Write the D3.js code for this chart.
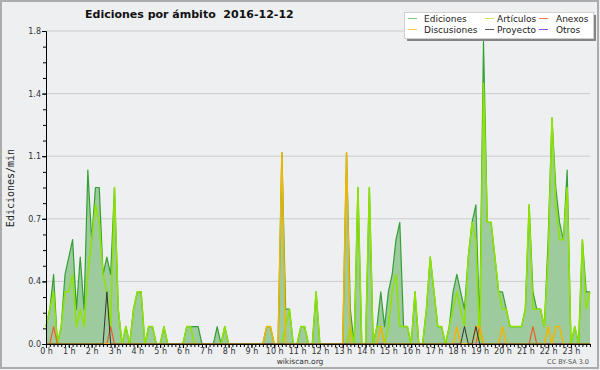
<!DOCTYPE html>
<html>
<head>
<meta charset="utf-8">
<script src="https://cdn.jsdelivr.net/npm/d3@7"></script>
<style>
	html, body { margin: 0; padding: 0; background: #eeeff1; }
	svg { display: block; font-family: 'DejaVu Sans', sans-serif; }
</style>
</head>
<body>
<div id="app"></div>
<script>

// one value per 10 minutes, edits per minute
const ediciones = [
	0.1, 0.2, 0.4, 0, 0.1, 0.4, 0.5, 0.6, 0.2, 0.5, 0.2, 1.0,
	0.6, 0.9, 0.9, 0.4, 0.5, 0.4, 0.9, 0.2, 0, 0.1, 0, 0.2,
	0.3, 0.3, 0, 0.1, 0.1, 0, 0, 0.1, 0, 0, 0, 0,
	0, 0.1, 0.1, 0.1, 0.1, 0, 0, 0, 0, 0.1, 0, 0.1,
	0, 0, 0, 0, 0, 0, 0, 0, 0, 0, 0.1, 0.1,
	0, 0, 1.1, 0.2, 0.2, 0, 0, 0.1, 0.1, 0, 0, 0.3,
	0, 0, 0, 0, 0, 0, 0, 1.1, 0.2, 0, 0.9, 0,
	0, 0.9, 0, 0.1, 0.3, 0.1, 0.3, 0.4, 0.6, 0.7, 0.1, 0.1,
	0, 0.3, 0, 0, 0.2, 0.5, 0.3, 0.1, 0.1, 0, 0.1, 0.3,
	0.4, 0.3, 0.2, 0.5, 0.7, 0.8, 0.1, 1.74, 0.7, 0.7, 0.5, 0.3,
	0.3, 0.2, 0.1, 0.1, 0.1, 0.1, 0.2, 0.8, 0.3, 0.2, 0.2, 0.1,
	0.6, 1.3, 0.9, 0.7, 0.6, 1.0, 0, 0.1, 0, 0.6, 0.3, 0.3
];

const articulos = [
	0.1, 0.2, 0.3, 0, 0.1, 0.3, 0.3, 0.4, 0.1, 0.2, 0.1, 0.4,
	0.6, 0.8, 0.7, 0.4, 0.3, 0.1, 0.9, 0.2, 0, 0.1, 0, 0.2,
	0.3, 0.3, 0, 0.1, 0.1, 0, 0, 0.1, 0, 0, 0, 0,
	0, 0.1, 0.1, 0, 0, 0, 0, 0, 0, 0, 0, 0.1,
	0, 0, 0, 0, 0, 0, 0, 0, 0, 0, 0, 0,
	0, 0, 0, 0.1, 0.2, 0, 0, 0.1, 0.1, 0, 0, 0.3,
	0, 0, 0, 0, 0, 0, 0, 0, 0.1, 0, 0.9, 0,
	0, 0.9, 0, 0.1, 0.1, 0, 0.1, 0.3, 0.4, 0.1, 0.1, 0.1,
	0, 0.3, 0, 0, 0.2, 0.5, 0.3, 0.1, 0.1, 0, 0.1, 0.2,
	0.3, 0.2, 0.1, 0.5, 0.7, 0.6, 0, 1.5, 0.7, 0.7, 0.5, 0.3,
	0.2, 0.2, 0.1, 0.1, 0.1, 0.1, 0.2, 0.8, 0.2, 0.2, 0.2, 0.1,
	0.5, 1.3, 0.8, 0.6, 0.6, 0.9, 0, 0.1, 0, 0.6, 0.2, 0.3
];

const discusiones = [
	0, 0, 0, 0, 0, 0, 0, 0, 0, 0, 0, 0,
	0, 0, 0, 0, 0, 0, 0, 0, 0, 0, 0, 0,
	0, 0, 0, 0, 0, 0, 0, 0, 0, 0, 0, 0,
	0, 0, 0, 0, 0, 0, 0, 0, 0, 0, 0, 0,
	0, 0, 0, 0, 0, 0, 0, 0, 0, 0, 0.1, 0.1,
	0, 0, 1.1, 0, 0, 0, 0, 0, 0, 0, 0, 0,
	0, 0, 0, 0, 0, 0, 0, 1.1, 0, 0, 0, 0,
	0, 0, 0, 0, 0.1, 0, 0, 0, 0, 0, 0, 0,
	0, 0, 0, 0, 0, 0, 0, 0, 0, 0, 0, 0,
	0.1, 0, 0, 0, 0, 0.1, 0.1, 0, 0, 0, 0, 0,
	0.1, 0, 0, 0, 0, 0, 0, 0, 0, 0, 0, 0,
	0.1, 0, 0.1, 0.1, 0, 0, 0, 0, 0, 0, 0, 0
];

const anexos = [
	0, 0, 0.1, 0, 0, 0, 0, 0, 0, 0, 0, 0,
	0, 0, 0, 0, 0, 0.1, 0, 0, 0, 0, 0, 0,
	0, 0, 0, 0, 0, 0, 0, 0, 0, 0, 0, 0,
	0, 0, 0, 0, 0, 0, 0, 0, 0, 0, 0, 0,
	0, 0, 0, 0, 0, 0, 0, 0, 0, 0, 0, 0,
	0, 0, 0, 0, 0, 0, 0, 0, 0, 0, 0, 0,
	0, 0, 0, 0, 0, 0, 0, 0, 0, 0, 0, 0,
	0, 0, 0, 0, 0, 0, 0, 0, 0, 0, 0, 0,
	0, 0, 0, 0, 0, 0, 0, 0, 0, 0, 0, 0,
	0, 0, 0, 0, 0, 0, 0.1, 0, 0, 0, 0, 0,
	0, 0, 0, 0, 0, 0, 0, 0, 0.1, 0, 0, 0,
	0, 0, 0, 0, 0, 0, 0, 0, 0, 0, 0, 0
];

const proyecto = [
	0, 0, 0, 0, 0, 0, 0, 0, 0, 0, 0, 0,
	0, 0, 0, 0, 0.3, 0, 0, 0, 0, 0, 0, 0,
	0, 0, 0, 0, 0, 0, 0, 0, 0, 0, 0, 0,
	0, 0, 0, 0, 0, 0, 0, 0, 0, 0, 0, 0,
	0, 0, 0, 0, 0, 0, 0, 0, 0, 0, 0, 0,
	0, 0, 0, 0, 0, 0, 0, 0, 0, 0, 0, 0,
	0, 0, 0, 0, 0, 0, 0, 0, 0, 0, 0, 0,
	0, 0, 0, 0, 0, 0, 0, 0, 0, 0, 0, 0,
	0, 0, 0, 0, 0, 0, 0, 0, 0, 0, 0, 0,
	0, 0, 0.1, 0, 0, 0.1, 0, 0, 0, 0, 0, 0,
	0, 0, 0, 0, 0, 0, 0, 0, 0, 0, 0, 0,
	0, 0, 0, 0, 0, 0, 0, 0, 0, 0, 0, 0
];

const otros = d3.range(144).map(() => 0);

const hourLabels = [
	'0 h', '1 h', '2 h', '3 h', '4 h', '5 h', '6 h', '7 h', '8 h', '9 h', '10 h', '11 h',
	'12 h', '13 h', '14 h', '15 h', '16 h', '17 h', '18 h', '19 h', '20 h', '21 h', '22 h', '23 h'
];

const yMajor = [0, 0.36, 0.72, 1.08, 1.44, 1.8];

const legendNames = ['Ediciones', 'Artículos', 'Anexos', 'Discusiones', 'Proyecto', 'Otros'];
const legendColors = ['#80c880', '#c8e860', '#f08050', '#f8c850', '#555555', '#9050e8'];

const chart = () => {

	const width = 600,
		height = 370;

	const margin = {
		top: 31,
		right: 10,
		bottom: 26,
		left: 46
	};

	let svg = d3.select('#app').append('svg')
		.attr('width', width)
		.attr('height', height);

	svg.append('rect')
		.attr('x', 1)
		.attr('y', 1)
		.attr('width', width - 3)
		.attr('height', height - 3)
		.attr('fill', '#eeeff1')
		.attr('stroke', '#acacac')
		.attr('stroke-width', 2);

	let xScale = d3.scaleLinear()
		.domain([0, ediciones.length - 1])
		.range([margin.left, width - margin.right]);

	let yScale = d3.scaleLinear()
		.domain([0, 1.8])
		.range([height - margin.bottom, margin.top]);

	// grid
	svg.append('g')
		.selectAll('line')
		.data(yMajor.slice(1))
		.enter().append('line')
		.attr('x1', xScale(0))
		.attr('x2', xScale(ediciones.length - 1))
		.attr('y1', d => yScale(d))
		.attr('y2', d => yScale(d))
		.attr('stroke', '#cccccc');

	let area = d3.area()
		.x((d, i) => xScale(i))
		.y0(yScale(0))
		.y1(d => yScale(d));

	let line = d3.line()
		.x((d, i) => xScale(i))
		.y(d => yScale(d));

	svg.append('path')
		.datum(ediciones)
		.attr('d', area)
		.attr('fill', '#9dcb9d');

	const series = [
		{ values: ediciones, color: '#34a034', w: 1.2 },
		{ values: articulos, color: '#8ee400', w: 1.5 },
		{ values: otros, color: '#9050e8', w: 1 },
		{ values: anexos, color: '#e8602c', w: 1.2 },
		{ values: discusiones, color: '#f2b600', w: 1.5 },
		{ values: proyecto, color: '#333333', w: 1 }
	];

	series.forEach(s => {
		svg.append('path')
			.datum(s.values)
			.attr('d', line)
			.attr('fill', 'none')
			.attr('stroke', s.color)
			.attr('stroke-width', s.w)
			.attr('stroke-linejoin', 'round');
	});

	// axes
	let yAxisMinor = d3.axisLeft(yScale)
		.tickValues(d3.range(0, 1.81, 0.09))
		.tickSize(3)
		.tickSizeOuter(0)
		.tickFormat('');
	svg.append('g')
		.attr('transform', `translate(${ margin.left },0)`)
		.call(yAxisMinor);

	let yAxis = d3.axisLeft(yScale)
		.tickValues(yMajor)
		.tickSize(4)
		.tickPadding(1)
		.tickSizeOuter(0)
		.tickFormat(d3.format('.1f'));
	svg.append('g')
		.classed('y axis', true)
		.attr('transform', `translate(${ margin.left },0)`)
		.call(yAxis);

	let xAxisMinor = d3.axisBottom(xScale)
		.tickValues(d3.range(ediciones.length))
		.tickSize(3)
		.tickSizeOuter(0)
		.tickFormat('');
	svg.append('g')
		.attr('transform', `translate(0,${ height - margin.bottom })`)
		.call(xAxisMinor);

	let xAxis = d3.axisBottom(xScale)
		.tickValues(d3.range(0, ediciones.length, 6))
		.tickSize(4)
		.tickPadding(0)
		.tickSizeOuter(0)
		.tickFormat(d => hourLabels[d / 6]);
	svg.append('g')
		.classed('x axis', true)
		.attr('transform', `translate(0,${ height - margin.bottom })`)
		.call(xAxis);

	svg.selectAll('.axis text')
		.attr('font-family', "'DejaVu Sans', sans-serif")
		.attr('font-size', 8)
		.attr('fill', '#333');
	svg.selectAll('.domain, .tick line')
		.attr('stroke', '#000');

	// titles
	svg.append('text')
		.attr('x', 85)
		.attr('y', 18)
		.attr('font-size', 11)
		.attr('font-weight', 'bold')
		.attr('fill', '#111')
		.attr('xml:space', 'preserve')
		.text('Ediciones por ámbito  2016-12-12');

	svg.append('text')
		.attr('transform', 'translate(14,188) rotate(-90)')
		.attr('text-anchor', 'middle')
		.attr('font-family', "'DejaVu Sans Mono', monospace")
		.attr('font-size', 10)
		.attr('fill', '#222')
		.text('Ediciones/min');

	svg.append('text')
		.attr('x', 300)
		.attr('y', 364)
		.attr('text-anchor', 'middle')
		.attr('font-size', 7.5)
		.attr('fill', '#333')
		.text('wikiscan.org');

	svg.append('text')
		.attr('x', 589)
		.attr('y', 364)
		.attr('text-anchor', 'end')
		.attr('font-size', 6.5)
		.attr('fill', '#555')
		.text('CC BY-SA 3.0');

	// legend
	let legend = svg.append('g');
	legend.append('rect')
		.attr('x', 407)
		.attr('y', 15)
		.attr('width', 189)
		.attr('height', 26)
		.attr('fill', '#858585');
	legend.append('rect')
		.attr('x', 404.5)
		.attr('y', 12.5)
		.attr('width', 189)
		.attr('height', 26)
		.attr('fill', '#fff')
		.attr('stroke', '#d0d0d0');

	const colLine = [408, 485, 539],
		colText = [424, 497, 556];

	legendNames.forEach((name, i) => {
		let col = i % 3,
			row = Math.floor(i / 3),
			ly = 18.5 + row * 11;
		legend.append('line')
			.attr('x1', colLine[col])
			.attr('x2', colLine[col] + 9)
			.attr('y1', ly)
			.attr('y2', ly)
			.attr('stroke', legendColors[i]);
		legend.append('text')
			.attr('x', colText[col])
			.attr('y', ly + 3.2)
			.attr('font-size', 9)
			.attr('fill', '#222')
			.text(name);
	});

};

chart();

</script>
</body>
</html>
